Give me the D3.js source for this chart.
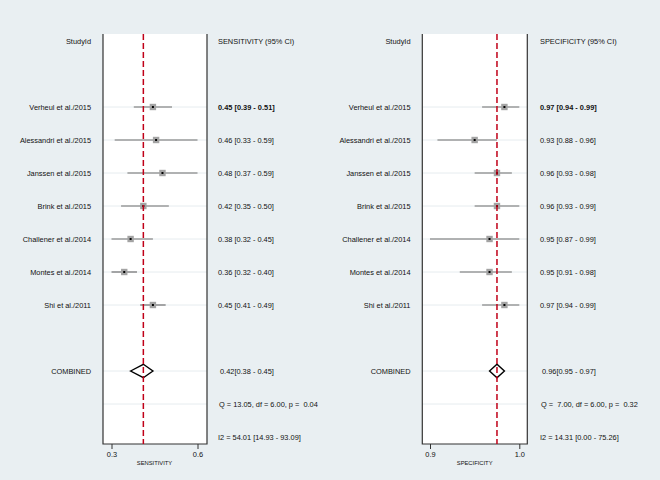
<!DOCTYPE html>
<html><head><meta charset="utf-8">
<script src="https://cdn.jsdelivr.net/npm/d3@7"></script>
<style>
html,body{margin:0;padding:0;background:#e9eff2;}
svg text{font-family:"Liberation Sans",Arial,sans-serif;white-space:pre;}
</style></head>
<body>
<svg id="chart" width="660" height="480"></svg>
<script>
const studies = ["Verheul et al./2015","Alessandri et al./2015","Janssen et al./2015","Brink et al./2015","Challener et al./2014","Montes et al./2014","Shi et al./2011"];
const sens   = [0.45,0.46,0.48,0.42,0.38,0.36,0.45];
const sensLo = [0.39,0.33,0.37,0.35,0.32,0.32,0.41];
const sensHi = [0.51,0.59,0.59,0.50,0.45,0.40,0.49];
const spec   = [0.97,0.93,0.96,0.96,0.95,0.95,0.97];
const specLo = [0.94,0.88,0.93,0.93,0.87,0.91,0.94];
const specHi = [0.99,0.96,0.98,0.99,0.99,0.98,0.99];
const sensPooled = [0.42,0.38,0.45];
const specPooled = [0.96,0.95,0.97];
const sensStats = ["Q = 13.05, df = 6.00, p =  0.04","I2 = 54.01 [14.93 - 93.09]"];
const specStats = ["Q =  7.00, df = 6.00, p =  0.32","I2 = 14.31 [0.00 - 75.26]"];
const panelTitles = ["SENSITIVITY","SPECIFICITY"];

const svg = d3.select("#chart");
const FS = 7.4;
const TXT = "#111";
const y = d3.scaleLinear().domain([0,12]).range([41,437]);

function panel(opt){
  const g = svg.append("g");
  const x = d3.scaleLinear()
    .domain([d3.min(opt.lo), d3.max(opt.hi)])
    .range(opt.range);
  const bx0 = opt.box[0], bx1 = opt.box[1], by0 = 34, by1 = 444;
  g.append("rect").attr("x",bx0).attr("y",by0).attr("width",bx1-bx0).attr("height",by1-by0).attr("fill","#fff");
  const gridRows = d3.range(2,9).concat([10,11]);
  g.selectAll(".grid").data(gridRows).join("line")
    .attr("x1",bx0).attr("x2",bx1).attr("y1",d=>y(d)).attr("y2",d=>y(d))
    .attr("stroke","#e6ecef").attr("stroke-width",1);
  g.append("path").attr("d",`M${bx0},${by0}V${by1}H${bx1}V${by0}`)
    .attr("fill","none").attr("stroke","#333").attr("stroke-width",1.2);
  const axis = d3.axisBottom(x).tickValues([d3.min(opt.lo), d3.max(opt.hi)])
    .tickFormat(d3.format(".1f")).tickSize(5).tickPadding(3);
  const ag = g.append("g").attr("transform",`translate(0,${by1})`).call(axis);
  ag.select(".domain").remove();
  ag.selectAll(".tick line").attr("stroke","#333").attr("stroke-width",1);
  ag.selectAll(".tick text").attr("font-size",FS).attr("fill",TXT)
    .attr("font-family","Liberation Sans, Arial, sans-serif");
  g.append("text").attr("x",(x.range()[0]+x.range()[1])/2).attr("y",465)
    .attr("text-anchor","middle").attr("font-size",5.8).attr("fill",TXT).text(opt.title);

  const idx = d3.range(opt.est.length);
  g.selectAll(".ci").data(idx).join("line")
    .attr("x1",i=>x(opt.lo[i])).attr("x2",i=>x(opt.hi[i]))
    .attr("y1",i=>y(i+2)).attr("y2",i=>y(i+2))
    .attr("stroke","#6e6e6e").attr("stroke-width",1.2);
  g.selectAll(".sq").data(idx).join("rect")
    .attr("x",i=>x(opt.est[i])-3.2).attr("y",i=>y(i+2)-3.2)
    .attr("width",6.4).attr("height",6.4).attr("fill","#a3a3a3");
  g.selectAll(".dot").data(idx).join("rect")
    .attr("x",i=>x(opt.est[i])-1).attr("y",i=>y(i+2)-1)
    .attr("width",2).attr("height",2).attr("fill","#000");
  const yc = y(10), p = opt.pooled;
  g.append("path")
    .attr("d",`M${x(p[1])},${yc}L${x(p[0])},${yc-6.7}L${x(p[2])},${yc}L${x(p[0])},${yc+6.7}Z`)
    .attr("fill","#fff").attr("stroke","#000").attr("stroke-width",1.4);
  g.append("line").attr("x1",x(p[0])).attr("x2",x(p[0])).attr("y1",by0).attr("y2",by1)
    .attr("stroke","#c00018").attr("stroke-width",1.5).attr("stroke-dasharray","6,3");

  const lab = g.append("g").attr("font-size",FS).attr("fill",TXT);
  lab.append("text").attr("x",opt.labelX).attr("y",y(0)+2.5).attr("text-anchor","end").text("StudyId");
  lab.selectAll(".st").data(studies).join("text")
    .attr("x",opt.labelX).attr("y",(d,i)=>y(i+2)+2.5).attr("text-anchor","end").text(d=>d);
  lab.append("text").attr("x",opt.labelX).attr("y",y(10)+2.5).attr("text-anchor","end").text("COMBINED");
  lab.append("text").attr("x",opt.textX).attr("y",y(0)+2.5).text(opt.title+" (95% CI)");
  const f = d3.format(".2f");
  lab.selectAll(".vt").data(idx).join("text")
    .attr("x",opt.textX).attr("y",i=>y(i+2)+2.5)
    .attr("font-weight",i=>i===0?"bold":"normal")
    .text(i=>`${f(opt.est[i])} [${f(opt.lo[i])} - ${f(opt.hi[i])}]`);
  lab.append("text").attr("x",opt.textX+2).attr("y",y(10)+2.5)
    .text(`${f(p[0])}[${f(p[1])} - ${f(p[2])}]`);
  lab.append("text").attr("x",opt.textX+1).attr("y",y(11)+2.5).text(opt.stats[0]);
  lab.append("text").attr("x",opt.textX).attr("y",y(12)+2.5).text(opt.stats[1]);
}

panel({est:sens, lo:sensLo, hi:sensHi, pooled:sensPooled, stats:sensStats, title:panelTitles[0],
  range:[111.5,197.5], box:[103,207], labelX:91, textX:218});
panel({est:spec, lo:specLo, hi:specHi, pooled:specPooled, stats:specStats, title:panelTitles[1],
  range:[430,519.3], box:[422.3,527.3], labelX:410.5, textX:540});
</script>
</body></html>
